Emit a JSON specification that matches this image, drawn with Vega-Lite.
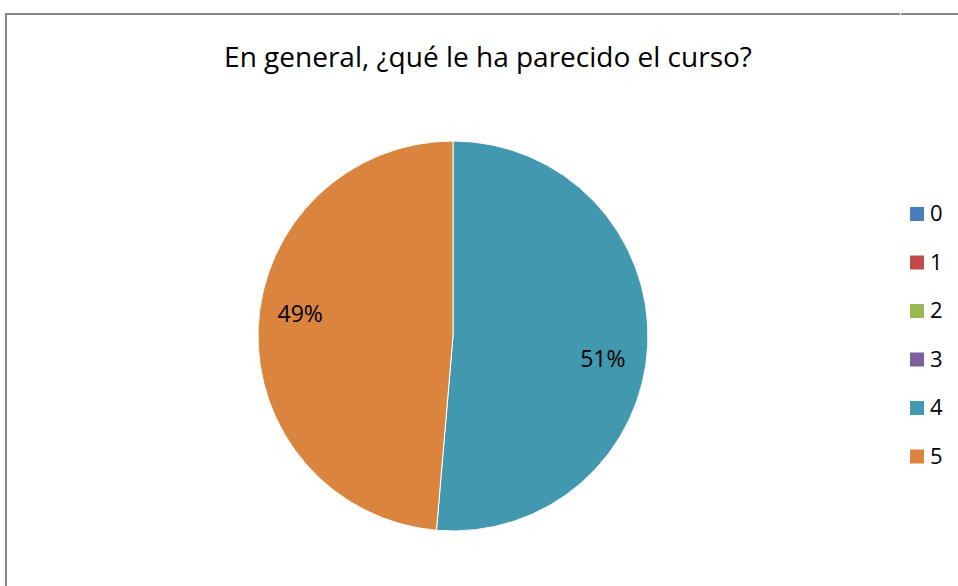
{
  "$schema": "https://vega.github.io/schema/vega-lite/v6.json",
  "autosize": {"type": "pad"},
  "padding": {"left": 5, "top": 13, "right": 0, "bottom": -71},
  "background": "white",
  "spacing": -2,
  "config": {
    "view": {"stroke": "#878787", "strokeWidth": 2}
  },
  "data": {
    "values": [
      {"nota": "4", "respuestas": 19, "etiqueta": "51%"},
      {"nota": "5", "respuestas": 18, "etiqueta": "49%"}
    ]
  },
  "hconcat": [
    {
      "width": 894,
      "height": 644,
      "view": {"stroke": "#878787", "strokeWidth": 2, "strokeDash": [894, 1538, 644]},
      "title": {
        "text": "En general, ¿qué le ha parecido el curso?",
        "anchor": "middle",
        "frame": "group",
        "dx": 35,
        "offset": -59,
        "fontSize": 28,
        "font": "Open Sans",
        "fontWeight": "normal",
        "color": "#000000"
      },
      "encoding": {
        "theta": {"field": "respuestas", "type": "quantitative", "stack": true},
        "order": {"field": "nota", "type": "ordinal"}
      },
      "layer": [
        {
          "mark": {"type": "arc", "outerRadius": 195, "stroke": "white", "strokeWidth": 1},
          "encoding": {
            "color": {
              "field": "nota",
              "type": "nominal",
              "scale": {
                "domain": ["0", "1", "2", "3", "4", "5"],
                "range": ["#4a7ebb", "#be4b48", "#98b954", "#7d60a0", "#4198af", "#db843d"]
              },
              "legend": {
                "orient": "none",
                "legendX": 900,
                "legendY": 189,
                "title": null,
                "symbolType": "square",
                "symbolSize": 196,
                "symbolStrokeWidth": 0,
                "labelFont": "Open Sans",
                "labelFontSize": 22,
                "labelColor": "#000000",
                "labelOffset": 2,
                "rowPadding": 26.5
              }
            }
          }
        },
        {
          "mark": {"type": "text", "radius": 152, "dx": -2, "dy": 18, "font": "Open Sans", "fontSize": 23, "color": "#000000"},
          "encoding": {
            "text": {"field": "etiqueta", "type": "nominal"},
            "opacity": {"condition": {"test": "datum.nota === '4'", "value": 1}, "value": 0}
          }
        },
        {
          "mark": {"type": "text", "radius": 152, "dx": -1, "dy": -15, "font": "Open Sans", "fontSize": 23, "color": "#000000"},
          "encoding": {
            "text": {"field": "etiqueta", "type": "nominal"},
            "opacity": {"condition": {"test": "datum.nota === '5'", "value": 1}, "value": 0}
          }
        }
      ]
    },
    {
      "width": 62,
      "height": 644,
      "view": {"stroke": "#878787", "strokeWidth": 2, "strokeDash": [62, 2000]},
      "mark": {"type": "text", "opacity": 0},
      "encoding": {}
    }
  ]
}
